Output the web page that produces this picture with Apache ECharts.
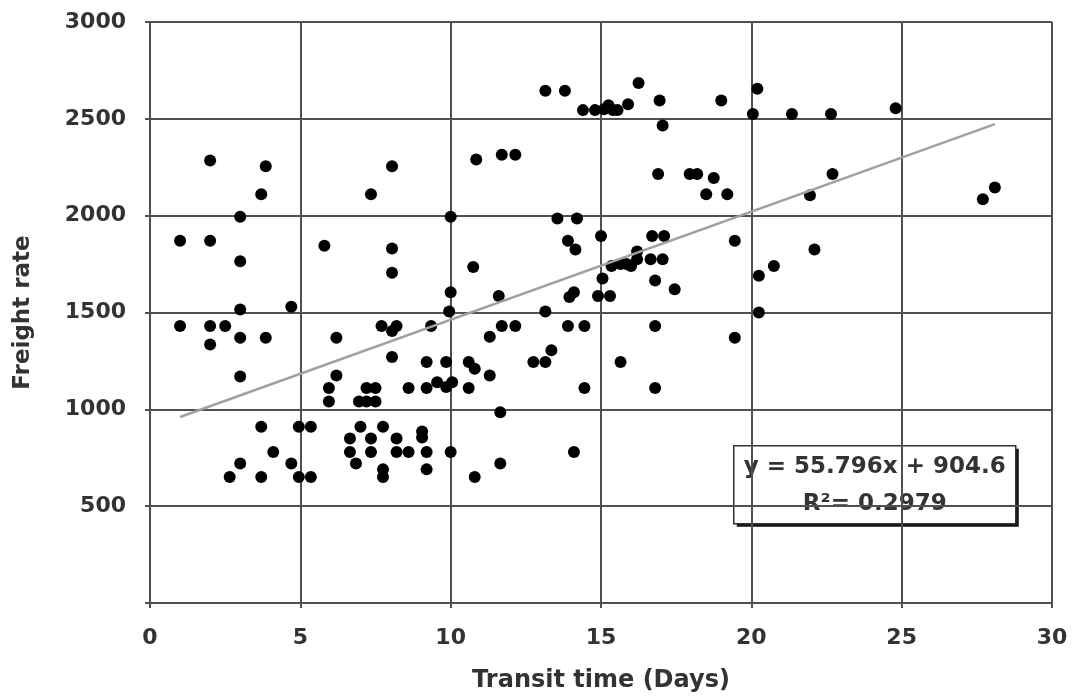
<!DOCTYPE html>
<html>
<head>
<meta charset="utf-8">
<title>Freight rate vs transit time</title>
<script src="https://cdn.jsdelivr.net/npm/echarts@6/dist/echarts.min.js"></script>
<style>
  html, body { margin: 0; padding: 0; background: #fff; }
  #chart { width: 1072px; height: 698px; }
</style>
</head>
<body>
<div id="chart"></div>
<script>
const transitDays = [
  2.0, 3.85, 3.7, 8.05, 7.35, 10.0, 3.0, 1.0, 2.0, 3.0, 5.8, 8.05, 8.05, 10.0, 9.95, 3.0, 4.7,
  1.0, 2.0, 2.5, 7.7, 8.2, 8.05, 9.35, 3.0, 3.85, 2.0, 6.2, 8.05, 3.0, 6.2, 5.95, 5.95,
  7.2, 7.5, 6.95, 7.2, 7.5, 8.6, 9.2, 9.2, 9.85, 9.55, 9.85, 10.05,
  3.7, 4.95, 5.35, 4.1, 3.0, 2.65, 3.7, 4.7, 4.95, 5.35, 7.0, 7.75, 6.65, 7.35, 8.2,
  9.05, 9.05, 6.65, 7.35, 8.2, 8.6, 9.2, 10.0, 6.85, 7.75, 7.75, 9.2,
  13.15, 13.8, 16.25, 16.95, 19.0, 15.9, 14.4, 14.8, 15.1, 15.25, 15.4, 15.55, 17.05,
  20.05, 20.2, 10.85, 11.7, 12.15, 16.9, 17.95, 18.2, 18.75, 18.5, 19.2,
  13.55, 14.2, 13.9, 14.15, 15.0, 16.7, 17.1, 19.45, 10.75, 16.2, 15.35, 15.65, 15.85,
  16.0, 16.2, 16.65, 17.05, 15.05, 16.8, 17.45, 11.6, 13.95, 14.1, 14.9, 15.3, 13.15,
  11.7, 12.15, 13.9, 14.45, 16.8, 11.3, 19.45, 13.35, 12.75, 13.15, 15.65, 10.6, 10.8,
  11.3, 10.6, 14.45, 16.8, 11.65, 14.1, 11.65, 10.8,
  21.35, 22.65, 24.8, 22.7, 21.95, 27.7, 28.1, 22.1, 20.75, 20.25, 20.25
];
const freightRate = [
  2285, 2255, 2110, 2255, 2110, 1995, 1995, 1870, 1870, 1765, 1845, 1830, 1705, 1605, 1505, 1515, 1530,
  1430, 1430, 1430, 1430, 1430, 1405, 1430, 1370, 1370, 1335, 1370, 1270, 1170, 1175, 1110, 1040,
  1110, 1110, 1040, 1040, 1040, 1110, 1110, 1245, 1245, 1140, 1115, 1140,
  910, 910, 910, 780, 720, 650, 650, 720, 650, 650, 910, 910, 850, 850, 850,
  885, 855, 780, 780, 780, 780, 780, 780, 720, 690, 650, 690,
  2645, 2645, 2685, 2595, 2595, 2575, 2545, 2545, 2550, 2570, 2545, 2545, 2465,
  2525, 2655, 2290, 2315, 2315, 2215, 2215, 2215, 2195, 2110, 2110,
  1985, 1985, 1870, 1825, 1895, 1895, 1895, 1870, 1735, 1815, 1740, 1750, 1750,
  1740, 1775, 1775, 1775, 1675, 1665, 1620, 1585, 1580, 1605, 1585, 1585, 1505,
  1430, 1430, 1430, 1430, 1430, 1375, 1370, 1305, 1245, 1245, 1245, 1245, 1210,
  1175, 1110, 1110, 1110, 985, 780, 720, 650,
  2525, 2525, 2555, 2215, 2105, 2085, 2145, 1825, 1740, 1690, 1500
];

// linear fit printed on the chart
const slope = 55.796;
const intercept = 904.6;
const rSquared = 0.2979;
const fitRange = [1, 28.1];

const xTicks = [0, 5, 10, 15, 20, 25, 30];
const yTicks = [0, 500, 1000, 1500, 2000, 2500, 3000];

const points = transitDays.map((d, i) => [d, freightRate[i]]);
const fitLine = fitRange.map(d => [d, slope * d + intercept]);

const FONT = "DejaVu Sans";
const gridColor = "#505050";

const chart = echarts.init(document.getElementById("chart"));
chart.setOption({
  animation: false,
  backgroundColor: "#fff",
  grid: { left: 150, right: 20, top: 22, bottom: 94 },
  xAxis: {
    type: "value",
    min: xTicks[0],
    max: xTicks[xTicks.length - 1],
    interval: 5,
    name: "Transit time (Days)",
    nameLocation: "middle",
    nameGap: 66,
    nameTextStyle: { fontFamily: FONT, fontWeight: "bold", fontSize: 24, color: "#333" },
    axisLine: { lineStyle: { color: gridColor, width: 2 } },
    axisTick: { show: true, length: 5, lineStyle: { color: gridColor, width: 2 } },
    axisLabel: {
      margin: 24,
      fontFamily: FONT, fontWeight: "bold", fontSize: 22, color: "#333"
    },
    splitLine: { show: true, lineStyle: { color: gridColor, width: 2 } }
  },
  yAxis: {
    type: "value",
    min: yTicks[0],
    max: yTicks[yTicks.length - 1],
    interval: 500,
    name: "Freight rate",
    nameLocation: "middle",
    nameGap: 115,
    nameTextStyle: { fontFamily: FONT, fontWeight: "bold", fontSize: 23, color: "#333" },
    axisLine: { show: true, lineStyle: { color: gridColor, width: 2 } },
    axisTick: { show: true, length: 5, lineStyle: { color: gridColor, width: 2 } },
    axisLabel: {
      margin: 24,
      fontFamily: FONT, fontWeight: "bold", fontSize: 22, color: "#333",
      formatter: v => (v === 0 ? "" : String(v))
    },
    splitLine: { show: true, lineStyle: { color: gridColor, width: 2 } }
  },
  series: [
    {
      type: "scatter",
      data: points,
      symbol: "circle",
      symbolSize: 12,
      itemStyle: { color: "#000", opacity: 1 },
      z: 3
    },
    {
      type: "line",
      data: fitLine,
      showSymbol: false,
      lineStyle: { color: "#a0a0a0", width: 2.5 },
      z: 4
    }
  ],
  graphic: [
    {
      type: "group",
      left: 733,
      top: 445,
      z: 10,
      children: [
        {
          // drop shadow
          type: "rect",
          shape: { x: 3, y: 3, width: 282, height: 78 },
          style: { fill: "#111" }
        },
        {
          type: "rect",
          shape: { x: 0, y: 0, width: 282, height: 78 },
          style: { fill: "#fff", stroke: "#333", lineWidth: 1.5 }
        },
        {
          type: "text",
          x: 141, y: 21,
          style: {
            text: "y = " + slope + "x + " + intercept,
            fontFamily: FONT, fontWeight: "bold", fontSize: 23, fill: "#333",
            align: "center", verticalAlign: "middle"
          }
        },
        {
          type: "text",
          x: 141, y: 58,
          style: {
            text: "R²= " + rSquared,
            fontFamily: FONT, fontWeight: "bold", fontSize: 23, fill: "#333",
            align: "center", verticalAlign: "middle"
          }
        }
      ]
    }
  ]
});
</script>
</body>
</html>
